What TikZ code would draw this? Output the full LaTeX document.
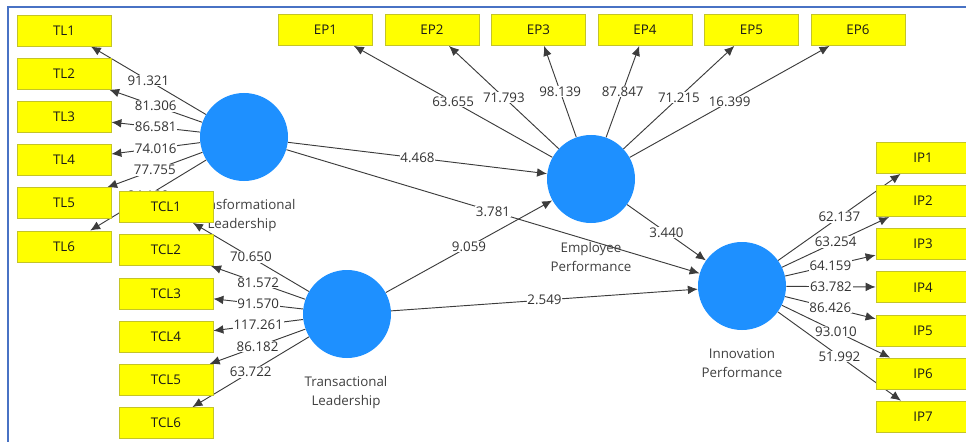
\documentclass[tikz,border=0pt]{standalone}
\usepackage{fontspec}
\setmainfont{Open Sans}
\usetikzlibrary{arrows.meta}
\definecolor{lvblue}{RGB}{30,144,255}
\definecolor{mvyellow}{RGB}{255,255,0}
\definecolor{mvborder}{RGB}{196,196,40}
\definecolor{framecol}{RGB}{72,114,196}
\definecolor{linecol}{RGB}{60,60,60}
\pgfdeclarelayer{background}
\pgfsetlayers{background,main}
\tikzset{
  indicator/.style={draw=mvborder, fill=mvyellow, line width=0.6pt, minimum width=70.5pt, minimum height=23.25pt, inner sep=0pt, font=\fontsize{10}{12}\selectfont, text=black!90},
  latent/.style={circle, fill=lvblue, minimum size=66pt, inner sep=0pt},
  caption/.style={align=center, inner sep=0pt, font=\fontsize{10}{14.6}\selectfont, text=black!75},
  link/.style={draw=linecol, line width=0.7pt, -{Latex[length=7.5pt,width=6.5pt]}},
  coef/.style={fill=white, inner sep=0.6pt, font=\fontsize{10}{12}\selectfont, text=black!80},
}
\begin{document}
\begin{tikzpicture}[x=0.75pt,y=0.75pt,yscale=-1,xscale=1]
\useasboundingbox (0,0) rectangle (966,442);

%Frame
\draw [framecol, line width=1.1pt] (8,442) -- (8,7) -- (966,7);

%Latent: Transformational Leadership
\node [latent] (tl) at (244,137) {};
\node [caption, anchor=north] (tlcap) at (242,199) {Transformational\\Leadership};
\node [indicator] (tl1) at (64,30.5) {TL1};
\node [indicator] (tl2) at (64,73.7) {TL2};
\node [indicator] (tl3) at (64,116.9) {TL3};
\node [indicator] (tl4) at (64,160.1) {TL4};
\node [indicator] (tl5) at (64,203.3) {TL5};
\node [indicator] (tl6) at (64,246.5) {TL6};

%Latent: Transactional Leadership
\node [indicator] (tcl1) at (166,207) {TCL1};
\node [indicator] (tcl2) at (166,250.2) {TCL2};
\node [indicator] (tcl3) at (166,293.4) {TCL3};
\node [indicator] (tcl4) at (166,336.6) {TCL4};
\node [indicator] (tcl5) at (166,379.8) {TCL5};
\node [indicator] (tcl6) at (166,423) {TCL6};
\node [latent] (tcl) at (347,314) {};
\node [caption, anchor=north] (tclcap) at (346,376) {Transactional\\Leadership};

%Latent: Employee Performance
\node [latent] (ep) at (591,179) {};
\node [caption, anchor=north] (epcap) at (591,242) {Employee\\Performance};
\node [indicator] (ep1) at (325.5,30) {EP1};
\node [indicator] (ep2) at (432,30) {EP2};
\node [indicator] (ep3) at (538.5,30) {EP3};
\node [indicator] (ep4) at (645,30) {EP4};
\node [indicator] (ep5) at (751.5,30) {EP5};
\node [indicator] (ep6) at (858,30) {EP6};

%Latent: Innovation Performance
\node [latent] (ip) at (742,286) {};
\node [caption, anchor=north] (ipcap) at (742,348) {Innovation\\Performance};
\node [indicator] (ip1) at (923,158) {IP1};
\node [indicator] (ip2) at (923,201.1) {IP2};
\node [indicator] (ip3) at (923,244.2) {IP3};
\node [indicator] (ip4) at (923,287.3) {IP4};
\node [indicator] (ip5) at (923,330.4) {IP5};
\node [indicator] (ip6) at (923,373.5) {IP6};
\node [indicator] (ip7) at (923,416.6) {IP7};

\begin{pgfonlayer}{background}
%Outer loadings
\draw [link] (tl) -- (tl1) node [coef, midway] {91.321};
\draw [link] (tl) -- (tl2) node [coef, midway] {81.306};
\draw [link] (tl) -- (tl3) node [coef, midway] {86.581};
\draw [link] (tl) -- (tl4) node [coef, midway] {74.016};
\draw [link] (tl) -- (tl5) node [coef, midway] {77.755};
\draw [link] (tl) -- (tl6) node [coef, midway] {84.130};

\draw [link] (tcl) -- (tcl1) node [coef, midway] {70.650};
\draw [link] (tcl) -- (tcl2) node [coef, midway] {81.572};
\draw [link] (tcl) -- (tcl3) node [coef, midway] {91.570};
\draw [link] (tcl) -- (tcl4) node [coef, midway] {117.261};
\draw [link] (tcl) -- (tcl5) node [coef, midway] {86.182};
\draw [link] (tcl) -- (tcl6) node [coef, midway] {63.722};

\draw [link] (ep) -- (ep1) node [coef, midway] {63.655};
\draw [link] (ep) -- (ep2) node [coef, midway] {71.793};
\draw [link] (ep) -- (ep3) node [coef, midway] {98.139};
\draw [link] (ep) -- (ep4) node [coef, midway] {87.847};
\draw [link] (ep) -- (ep5) node [coef, midway] {71.215};
\draw [link] (ep) -- (ep6) node [coef, midway] {16.399};

\draw [link] (ip) -- (ip1) node [coef, midway] {62.137};
\draw [link] (ip) -- (ip2) node [coef, midway] {63.254};
\draw [link] (ip) -- (ip3) node [coef, midway] {64.159};
\draw [link] (ip) -- (ip4) node [coef, midway] {63.782};
\draw [link] (ip) -- (ip5) node [coef, midway] {86.426};
\draw [link] (ip) -- (ip6) node [coef, midway] {93.010};
\draw [link] (ip) -- (ip7) node [coef, midway] {51.992};

%Inner paths
\draw [link] (tl) -- (ep) node [coef, midway] {4.468};
\draw [link] (tl) -- (ip) node [coef, midway] {3.781};
\draw [link] (tcl) -- (ep) node [coef, midway] {9.059};
\draw [link] (tcl) -- (ip) node [coef, midway] {2.549};
\draw [link] (ep) -- (ip) node [coef, midway] {3.440};
\end{pgfonlayer}
\end{tikzpicture}
\end{document}
